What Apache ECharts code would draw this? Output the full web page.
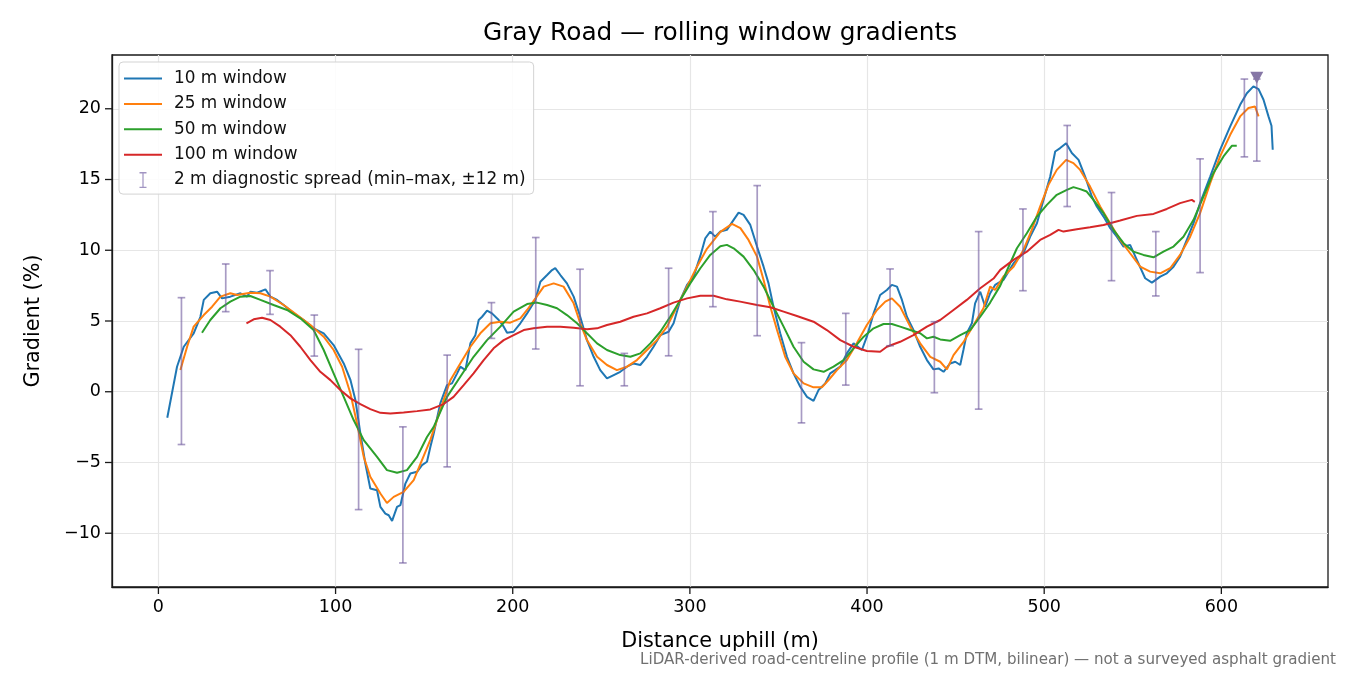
<!DOCTYPE html>
<html>
<head>
<meta charset="utf-8">
<title>Gray Road — rolling window gradients</title>
<script src="https://cdn.jsdelivr.net/npm/echarts@6/dist/echarts.min.js"></script>
<style>
  html, body { margin: 0; padding: 0; background: #fff; }
  #chart { width: 1350px; height: 675px; }
</style>
</head>
<body>
<div id="chart"></div>
<script>
// 10 m window
const dist10 = [5, 10.5, 14.3, 19.9, 23.7, 25.6, 29.3, 33.1, 35.9, 40.6, 46.3, 50, 51.9, 55.7, 60.4, 63.2, 67, 70.7, 76.4, 82, 87.6, 93.3, 98.9, 104.6, 108.4, 111.2, 114, 116.8, 119.6, 123.4, 125.3, 128.1, 130, 131.9, 134.7, 136.6, 139.4, 142.2, 146, 148.8, 151.6, 153.5, 155.4, 159.1, 162.9, 165.7, 168.6, 170.4, 173.3, 176.1, 178.9, 180.8, 182.7, 185.5, 188.3, 192.1, 194.9, 196.8, 200.5, 204.3, 208.1, 212.8, 215.6, 219.4, 222.2, 224, 226.9, 230.6, 234.4, 238.1, 241.9, 245.7, 249.4, 253.2, 257, 260.7, 264.5, 268.2, 272, 275.8, 279.5, 283.3, 288, 290.8, 294.6, 298.4, 302.1, 305.9, 308.7, 311.5, 314.3, 317.2, 320.9, 324.7, 327.5, 330.3, 334.1, 337.9, 341.6, 344.4, 347.2, 351, 354.8, 358.5, 362.3, 366.1, 369.8, 372.6, 376.4, 379.2, 382, 384.9, 388.6, 392.4, 397.1, 399.9, 403.7, 407.4, 411.2, 414, 416.9, 419.7, 422.5, 426.2, 430, 433.8, 437.5, 440.4, 443.2, 446.9, 449.8, 452.6, 454.4, 456.3, 459.2, 461, 463.9, 466.7, 469.5, 472.3, 477, 482.7, 488.3, 492.1, 495.9, 499.6, 503.4, 506.2, 509, 512.4, 515.6, 519.4, 523.1, 526.9, 529.7, 533.5, 537.3, 541, 544.8, 548.5, 552.3, 557, 560.8, 565.5, 569.2, 573, 576.7, 580.5, 584.3, 588, 593.7, 599.3, 605, 610.6, 614.4, 618.1, 621, 623.8, 626.6, 628.3, 629];
const grad10 = [-1.84, 1.77, 3.18, 4.13, 5.3, 6.49, 6.96, 7.07, 6.6, 6.72, 6.96, 6.72, 7.07, 7.0, 7.24, 6.72, 6.49, 6.13, 5.54, 5.07, 4.48, 4.13, 3.3, 2.0, 0.83, -0.59, -2.95, -5.07, -6.84, -6.96, -8.14, -8.61, -8.73, -9.13, -8.14, -8.02, -6.49, -5.78, -5.66, -5.19, -4.95, -3.9, -2.95, -0.82, 0.47, 0.59, 1.3, 1.77, 1.53, 3.42, 4.0, 5.07, 5.3, 5.73, 5.54, 5.07, 4.6, 4.17, 4.24, 4.84, 5.54, 6.49, 7.78, 8.25, 8.6, 8.73, 8.25, 7.66, 6.72, 5.3, 3.65, 2.47, 1.53, 0.94, 1.18, 1.41, 1.77, 2.0, 1.89, 2.47, 3.18, 4.0, 4.24, 4.84, 6.49, 7.55, 8.14, 9.6, 10.85, 11.32, 10.96, 11.32, 11.44, 12.15, 12.66, 12.5, 11.79, 10.26, 8.84, 7.66, 6.01, 4.13, 2.47, 1.3, 0.35, -0.36, -0.64, 0.12, 0.59, 1.3, 1.53, 1.77, 2.71, 3.42, 2.95, 3.89, 5.54, 6.84, 7.19, 7.55, 7.43, 6.49, 5.3, 4.36, 3.18, 2.24, 1.58, 1.65, 1.41, 2.0, 2.12, 1.89, 2.95, 4.13, 4.84, 6.25, 7.07, 6.01, 6.96, 7.55, 7.9, 9.08, 9.79, 10.96, 11.91, 13.56, 15.21, 16.98, 17.22, 17.57, 16.87, 16.39, 15.21, 13.8, 13.09, 12.38, 11.56, 10.96, 10.26, 10.38, 9.32, 8.02, 7.71, 8.14, 8.37, 8.84, 9.55, 10.73, 11.91, 13.33, 15.21, 17.1, 18.75, 20.28, 21.1, 21.58, 21.39, 20.64, 19.46, 18.8, 17.1];

// 25 m window
const dist25 = [12.4, 16.2, 19.9, 25.6, 30.3, 35, 40.6, 44.4, 51.9, 57.6, 63.2, 70.7, 78.3, 85.8, 93.3, 98.9, 103.7, 108.4, 112.1, 115.9, 119.6, 125.3, 129, 132.8, 138.4, 144.1, 147.9, 153.5, 159.1, 164.8, 170.4, 176.1, 181.7, 187.4, 193, 198.6, 204.3, 208.1, 212.8, 217.5, 223.1, 228.7, 234.4, 238.1, 241.9, 247.6, 253.2, 258.8, 264.5, 270.1, 275.8, 281.4, 287.1, 292.7, 298.4, 304, 309.6, 317.2, 323.8, 328.5, 333.1, 337.9, 341.6, 345.4, 349.2, 353.8, 358.5, 364.2, 369.8, 374.5, 378.3, 383, 388.6, 394.2, 399.9, 405.6, 410.3, 414, 418.7, 424.4, 430, 435.7, 441.3, 445.1, 448.8, 454.4, 460.1, 465.7, 469.5, 472.3, 477, 482.7, 488.3, 493, 497.7, 502.4, 507.1, 512.4, 516.5, 520.3, 525.9, 531.6, 537.2, 542.9, 548.5, 554.2, 559.8, 565.5, 571.1, 576.7, 582.4, 588, 593.7, 599.3, 605, 610.6, 615.3, 619, 621];
const grad25 = [1.53, 3.18, 4.6, 5.42, 6.01, 6.72, 6.96, 6.84, 7.0, 6.96, 6.72, 6.13, 5.42, 4.72, 3.89, 2.95, 1.77, -0.12, -2.24, -4.6, -6.01, -7.19, -7.86, -7.43, -7.08, -6.25, -5.1, -3.4, -1.3, 0.82, 2.0, 3.18, 4.13, 4.84, 4.95, 4.88, 5.19, 5.78, 6.6, 7.43, 7.66, 7.43, 6.25, 4.84, 3.65, 2.47, 1.89, 1.53, 1.77, 2.24, 2.95, 3.65, 4.6, 6.01, 7.43, 8.84, 10.1, 11.3, 11.86, 11.56, 10.73, 9.55, 7.9, 6.01, 4.36, 2.47, 1.3, 0.59, 0.31, 0.31, 0.83, 1.53, 2.24, 3.42, 4.72, 5.78, 6.37, 6.6, 6.01, 4.6, 3.42, 2.47, 2.12, 1.58, 2.59, 3.5, 4.7, 5.9, 7.43, 7.19, 8.14, 8.84, 10.02, 11.44, 13.09, 14.62, 15.68, 16.39, 16.16, 15.68, 14.5, 13.09, 11.91, 10.73, 9.79, 8.84, 8.49, 8.37, 8.73, 9.67, 10.96, 12.62, 14.74, 16.63, 18.16, 19.46, 20.05, 20.16, 19.46];

// 50 m window
const dist50 = [24.6, 29.3, 35, 40.6, 46.3, 51.9, 57.6, 65, 72.6, 80.1, 87.6, 93.3, 98.9, 104.6, 110.2, 115.9, 123.4, 129, 134.7, 140.3, 146, 151.6, 155.4, 162.9, 170.4, 177.9, 185.5, 193, 200.5, 208.1, 213.7, 219.4, 225, 230.6, 236.3, 241.9, 247.6, 253.2, 260.7, 266.4, 272, 277.7, 283.3, 288.9, 294.6, 300.2, 305.9, 311.5, 317.2, 320.9, 324.7, 330.3, 336, 341.6, 347.2, 352.9, 358.5, 364.2, 369.8, 375.5, 381.1, 386.8, 392.4, 398.1, 403.7, 409.3, 414, 418.7, 424.4, 430, 433.8, 437.5, 441.3, 446.9, 452.6, 458.2, 463.9, 469.5, 475.2, 480.8, 484.6, 490.2, 495.9, 501.5, 507.1, 512.8, 516.5, 520.3, 524, 527.8, 533.5, 539.1, 544.8, 550.4, 556, 561.7, 567.3, 573, 578.6, 584.3, 589.9, 595.5, 601.2, 605.9, 608.7];
const grad50 = [4.17, 5.07, 5.9, 6.37, 6.72, 6.77, 6.49, 6.13, 5.78, 5.19, 4.36, 2.95, 1.3, -0.36, -2.0, -3.42, -4.6, -5.54, -5.73, -5.54, -4.6, -3.2, -2.48, -0.36, 1.06, 2.47, 3.65, 4.6, 5.66, 6.2, 6.3, 6.13, 5.9, 5.42, 4.84, 4.13, 3.42, 2.95, 2.59, 2.47, 2.71, 3.42, 4.24, 5.3, 6.49, 7.66, 8.73, 9.67, 10.28, 10.38, 10.14, 9.55, 8.6, 7.43, 6.01, 4.6, 3.18, 2.12, 1.58, 1.41, 1.77, 2.24, 3.07, 3.89, 4.48, 4.79, 4.79, 4.6, 4.36, 4.13, 3.77, 3.89, 3.7, 3.6, 4.0, 4.36, 5.3, 6.3, 7.5, 9.08, 10.14, 11.2, 12.38, 13.21, 13.92, 14.27, 14.46, 14.32, 14.15, 13.56, 12.62, 11.44, 10.5, 9.9, 9.67, 9.5, 9.9, 10.26, 10.96, 12.15, 13.8, 15.45, 16.63, 17.38, 17.38];

// 100 m window
const dist100 = [49.7, 53.8, 58.5, 63.2, 68.8, 74.5, 80.1, 85.8, 91.4, 97.1, 102.7, 108.4, 114, 119.6, 125.3, 130.9, 138.4, 146, 153.5, 161, 166.6, 172.3, 177.9, 183.6, 189.2, 194.9, 200.5, 206.2, 211.8, 219.4, 226.9, 234.4, 241.9, 247.6, 253.2, 260.7, 268.2, 275.8, 283.3, 290.8, 298.4, 305.9, 313.4, 320.9, 328.4, 337.9, 345.4, 352.9, 360.4, 369.8, 377.3, 384.9, 392.4, 399.9, 407.4, 411.2, 418.7, 426.2, 433.8, 441.3, 448.8, 456.3, 463.9, 471.4, 475.2, 482.7, 490.2, 497.7, 503.4, 508.1, 510.9, 518.4, 525.9, 533.5, 542.9, 552.3, 561.7, 569.2, 576.7, 583.3, 585];
const grad100 = [4.84, 5.12, 5.23, 5.07, 4.6, 4.0, 3.18, 2.24, 1.41, 0.82, 0.12, -0.47, -0.87, -1.23, -1.49, -1.53, -1.46, -1.37, -1.25, -0.87, -0.36, 0.47, 1.3, 2.24, 3.07, 3.65, 4.0, 4.36, 4.48, 4.6, 4.6, 4.53, 4.41, 4.48, 4.72, 4.95, 5.3, 5.54, 5.9, 6.3, 6.6, 6.79, 6.78, 6.53, 6.37, 6.13, 5.97, 5.66, 5.35, 4.95, 4.36, 3.65, 3.18, 2.88, 2.83, 3.18, 3.53, 4.0, 4.6, 5.07, 5.78, 6.49, 7.31, 8.0, 8.61, 9.32, 9.9, 10.73, 11.08, 11.44, 11.32, 11.49, 11.63, 11.79, 12.1, 12.43, 12.57, 12.92, 13.33, 13.56, 13.42];

// 2 m diagnostic spread (min–max over ±12 m)
const spreadDist = [13, 38, 63, 88, 113, 138, 163, 188, 213, 238, 263, 288, 313, 338, 363, 388, 413, 438, 463, 488, 513, 538, 563, 588, 613, 620];
const spreadMin = [-3.73, 5.66, 5.47, 2.52, -8.33, -12.1, -5.31, 3.77, 3.02, 0.42, 0.42, 2.54, 6.01, 3.96, -2.2, 0.47, 3.25, -0.07, -1.23, 7.14, 13.09, 7.85, 6.77, 8.42, 16.6, 16.3];
const spreadMax = [6.65, 9.03, 8.56, 5.42, 3.0, -2.48, 2.59, 6.3, 10.9, 8.66, 2.71, 8.73, 12.73, 14.57, 3.47, 5.54, 8.68, 4.95, 11.32, 12.92, 18.82, 14.08, 11.32, 16.46, 22.1, 22.1];

// steepest point marker
const peakDist = [620];
const peakGrad = [22.2];

// view range and tick positions
const xRange = [-26.2, 660.2];
const yRange = [-13.8, 23.8];
const xTicks = [0, 100, 200, 300, 400, 500, 600];
const yTicks = [-10, -5, 0, 5, 10, 15, 20];

const FONT = 'DejaVu Sans';
const spreadColor = 'rgba(110, 89, 157, 0.6)';
const TICK_LEN = 7;
// legend icons: tiny corner dots keep the path box at itemWidth x itemHeight
const lineIcon = 'path://M0,0H0.05V0.05H0Z M37.95,17.95H38V18H37.95Z M0,8H38V10H0Z';
const barIcon = 'path://M0,0H0.05V0.05H0Z M37.95,17.95H38V18H37.95Z M15.5,1H22.5V2.3H19.6V15.7H22.5V17H15.5V15.7H18.4V2.3H15.5Z';

function pairs(xs, ys) {
    return xs.map((x, i) => [x, ys[i]]);
}

function lineSeries(name, xs, ys, color) {
    return {
        name: name,
        type: 'line',
        data: pairs(xs, ys),
        symbol: 'none',
        showSymbol: false,
        lineStyle: { color: color, width: 2 },
        itemStyle: { color: color },
        z: 3
    };
}

// outward tick marks on the bottom / left spines; the spine point comes from the axis scales
function tickSeries(values, horizontal) {
    return {
        name: horizontal ? 'x ticks' : 'y ticks',
        type: 'custom',
        silent: true,
        clip: false,
        z: 6,
        data: values.map(v => horizontal ? [v, yRange[0]] : [xRange[0], v]),
        encode: { x: 0, y: 1 },
        renderItem: function (params, api) {
            const p = api.coord([api.value(0), api.value(1)]);
            const shape = horizontal
                ? { x1: p[0], y1: p[1], x2: p[0], y2: p[1] + TICK_LEN }
                : { x1: p[0], y1: p[1], x2: p[0] - TICK_LEN, y2: p[1] };
            return { type: 'line', shape: shape, style: { stroke: '#1a1a1a', lineWidth: 1.3 } };
        }
    };
}

const axisBlack = { color: '#1a1a1a', width: 1.3 };
const gridLine = { show: true, lineStyle: { color: '#e6e6e6', width: 1.2 } };

const myChart = echarts.init(document.getElementById('chart'), null, { renderer: 'canvas' });

myChart.setOption({
    animation: false,
    backgroundColor: '#fff',
    textStyle: { fontFamily: FONT },
    grid: {
        left: 112, right: 22, top: 55, bottom: 88,
        show: true, borderColor: '#1a1a1a', borderWidth: 1.3,
        backgroundColor: 'transparent'
    },
    legend: {
        orient: 'vertical',
        left: 119, top: 62,
        padding: [7.5, 8, 5, 5],
        itemWidth: 38, itemHeight: 18, itemGap: 7.4,
        backgroundColor: 'rgba(255,255,255,0.85)',
        borderColor: '#d3d3d3', borderWidth: 1, borderRadius: 4,
        textStyle: { fontFamily: FONT, fontSize: 16.9, color: '#111', padding: [0, 0, 0, 7] },
        data: [
            { name: '10 m window', icon: lineIcon, itemStyle: { color: '#1f77b4' } },
            { name: '25 m window', icon: lineIcon, itemStyle: { color: '#ff7f0e' } },
            { name: '50 m window', icon: lineIcon, itemStyle: { color: '#2ca02c' } },
            { name: '100 m window', icon: lineIcon, itemStyle: { color: '#d62728' } },
            { name: '2 m diagnostic spread (min–max, ±12 m)', icon: barIcon, itemStyle: { color: '#a194c2' } }
        ]
    },
    xAxis: {
        type: 'value',
        min: xRange[0], max: xRange[1],
        name: 'Distance uphill (m)',
        nameLocation: 'middle', nameGap: 44,
        nameTextStyle: { fontFamily: FONT, fontSize: 20.8, color: '#000' },
        axisLine: { show: true, onZero: false, lineStyle: axisBlack },
        axisTick: { show: false, customValues: xTicks },
        axisLabel: { fontFamily: FONT, fontSize: 17.5, color: '#000', margin: 11, customValues: xTicks },
        splitLine: gridLine
    },
    yAxis: {
        type: 'value',
        min: yRange[0], max: yRange[1],
        name: 'Gradient (%)',
        nameLocation: 'middle', nameGap: 68, nameRotate: 90,
        nameTextStyle: { fontFamily: FONT, fontSize: 20.8, color: '#000' },
        axisLine: { show: true, onZero: false, lineStyle: axisBlack },
        axisTick: { show: false, customValues: yTicks },
        axisLabel: {
            fontFamily: FONT, fontSize: 17.5, color: '#000', margin: 11, customValues: yTicks,
            formatter: v => String(v).replace('-', '\u2212')
        },
        splitLine: gridLine
    },
    series: [
        lineSeries('10 m window', dist10, grad10, '#1f77b4'),
        lineSeries('25 m window', dist25, grad25, '#ff7f0e'),
        lineSeries('50 m window', dist50, grad50, '#2ca02c'),
        lineSeries('100 m window', dist100, grad100, '#d62728'),
        {
            name: '2 m diagnostic spread (min–max, ±12 m)',
            type: 'custom',
            data: spreadDist.map((x, i) => [x, spreadMin[i], spreadMax[i]]),
            encode: { x: 0, y: [1, 2] },
            itemStyle: { color: spreadColor },
            z: 4,
            renderItem: function (params, api) {
                const x = api.value(0);
                const lo = api.coord([x, api.value(1)]);
                const hi = api.coord([x, api.value(2)]);
                const cap = 3.8;
                const style = { stroke: spreadColor, lineWidth: 1.7, fill: null };
                return {
                    type: 'group',
                    children: [
                        { type: 'line', shape: { x1: lo[0], y1: lo[1], x2: hi[0], y2: hi[1] }, style: style },
                        { type: 'line', shape: { x1: lo[0] - cap, y1: lo[1], x2: lo[0] + cap, y2: lo[1] }, style: style },
                        { type: 'line', shape: { x1: hi[0] - cap, y1: hi[1], x2: hi[0] + cap, y2: hi[1] }, style: style }
                    ]
                };
            }
        },
        {
            name: 'peak',
            type: 'scatter',
            data: pairs(peakDist, peakGrad),
            symbol: 'triangle',
            symbolRotate: 180,
            symbolSize: [13, 12],
            itemStyle: { color: '#8677a6', opacity: 1 },
            z: 5
        },
        tickSeries(xTicks, true),
        tickSeries(yTicks, false)
    ],
    graphic: [
        {
            type: 'text', x: 720, y: 34,
            style: {
                text: 'Gray Road — rolling window gradients',
                fontFamily: FONT, fontSize: 24.8, fill: '#000',
                textAlign: 'center', textVerticalAlign: 'middle'
            }
        },
        {
            type: 'text', x: 1336, y: 660,
            style: {
                text: 'LiDAR-derived road-centreline profile (1 m DTM, bilinear) — not a surveyed asphalt gradient',
                fontFamily: FONT, fontSize: 15.1, fill: '#707070',
                textAlign: 'right', textVerticalAlign: 'middle'
            }
        }
    ]
});
</script>
</body>
</html>
